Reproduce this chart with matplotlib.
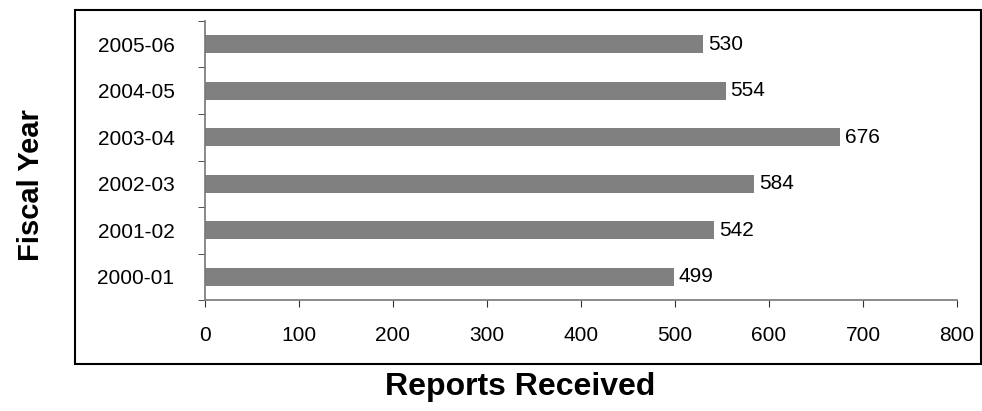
import matplotlib
matplotlib.use("Agg")
import matplotlib.pyplot as plt
from matplotlib.patches import Rectangle

years = ["2000-01", "2001-02", "2002-03", "2003-04", "2004-05", "2005-06"]
reports = [499, 542, 584, 676, 554, 530]
xticks = [0, 100, 200, 300, 400, 500, 600, 700, 800]

plt.rcParams['font.family'] = ['Liberation Sans', 'DejaVu Sans']

W, H = 982, 411
fig = plt.figure(figsize=(W/100, H/100), dpi=100)
ax = fig.add_axes([205/W, 1 - 300/H, (957-205)/W, (300-21)/H])

FS = 15
pos = list(range(len(years)))
ax.barh(pos, reports, height=0.39, color='#808080', zorder=2)
for p, v in zip(pos, reports):
    ax.text(v + 5, p, str(v), va='center', ha='left', fontsize=FS)

ax.set_xlim(0, 800)
ax.set_ylim(-0.5, len(years) - 0.5)
ax.set_xticks(xticks)
ax.set_xticklabels([str(t) for t in xticks], fontsize=FS)
ax.set_yticks(pos)
ax.set_yticklabels(years, fontsize=FS)
ax.tick_params(axis='y', length=0, pad=22)
ax.set_yticks([p - 0.5 for p in pos] + [len(years) - 0.5], minor=True)
ax.tick_params(axis='y', which='minor', length=5, color='#333333', direction='out')
ax.tick_params(axis='x', length=5, color='#333333', direction='out', pad=14)

for s in ['top', 'right']:
    ax.spines[s].set_visible(False)
for s in ['left', 'bottom']:
    ax.spines[s].set_color('#777777')
    ax.spines[s].set_linewidth(1.2)

fig.patches.append(Rectangle((75/W, 1 - 364/H), (981-75)/W, (364-10)/H,
                             transform=fig.transFigure, fill=False,
                             edgecolor='black', linewidth=1.5))

fig.text(31/W, 1 - 185/H, "Fiscal Year", rotation=90, ha='center', va='center',
         fontsize=21, fontweight='bold')
fig.text(520/W, 1 - 387/H, "Reports Received", ha='center', va='center',
         fontsize=23, fontweight='bold')

fig.savefig("out.png", dpi=100)
